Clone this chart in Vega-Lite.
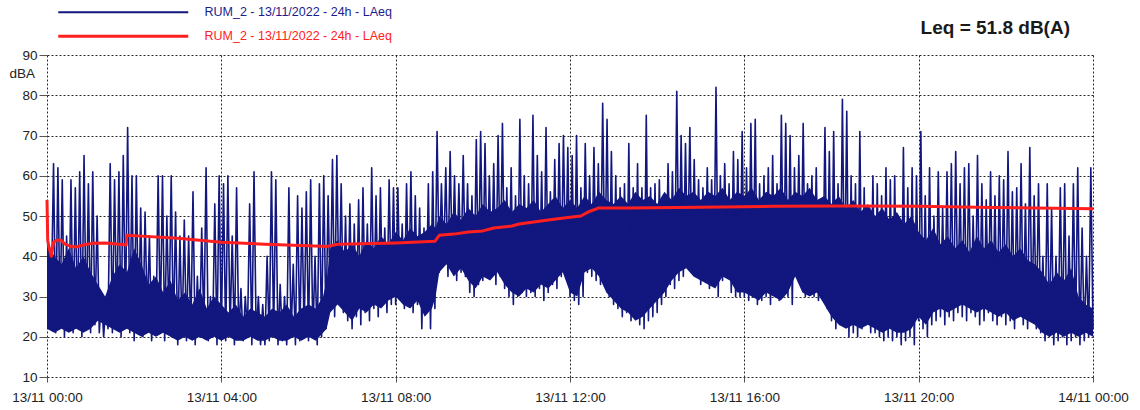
{
"$schema": "https://vega.github.io/schema/vega-lite/v6.json",
"width": 1046, "height": 322,
"autosize": {"type": "none"},
"padding": {"left": 47, "top": 55, "right": 47, "bottom": 33},
"background": "white",
"title": {"text": "Leq = 51.8 dB(A)", "anchor": "end", "frame": "group", "fontSize": 19, "fontWeight": "bold", "font": "Liberation Sans", "color": "#1a1a1a", "baseline": "alphabetic", "offset": -47, "dx": -23},
"datasets": {
"laeq": [
{"m":0,"v":54},{"m":3,"v":22},{"m":6,"v":30},{"m":9,"v":63},{"m":12,"v":21},{"m":15,"v":62},{"m":18,"v":24},{"m":21,"v":59},{"m":24,"v":20},{"m":27,"v":45},{"m":30,"v":22},{"m":33,"v":59},{"m":36,"v":21},{"m":39,"v":57},{"m":42,"v":23},{"m":45,"v":61},{"m":48,"v":20},{"m":51,"v":65},{"m":54,"v":22},{"m":57,"v":58},
{"m":60,"v":21},{"m":63,"v":61},{"m":66,"v":23},{"m":69,"v":50},{"m":72,"v":21},{"m":75,"v":30},{"m":78,"v":20},{"m":81,"v":28},{"m":84,"v":22},{"m":87,"v":63},{"m":90,"v":21},{"m":93,"v":59},{"m":96,"v":23},{"m":99,"v":61},{"m":102,"v":20},{"m":105,"v":65},{"m":108,"v":24},{"m":111,"v":72},{"m":114,"v":21},{"m":117,"v":60},
{"m":120,"v":19},{"m":123,"v":60},{"m":126,"v":22},{"m":129,"v":52},{"m":132,"v":20},{"m":135,"v":51},{"m":138,"v":25},{"m":141,"v":45},{"m":144,"v":19},{"m":147,"v":35},{"m":150,"v":21},{"m":153,"v":60},{"m":156,"v":22},{"m":159,"v":60},{"m":162,"v":19},{"m":165,"v":50},{"m":168,"v":23},{"m":171,"v":60},{"m":174,"v":20},{"m":177,"v":51},
{"m":180,"v":18},{"m":183,"v":45},{"m":186,"v":20},{"m":189,"v":49},{"m":192,"v":19},{"m":195,"v":45},{"m":198,"v":21},{"m":201,"v":56},{"m":204,"v":18},{"m":207,"v":35},{"m":210,"v":20},{"m":213,"v":47},{"m":216,"v":22},{"m":219,"v":62},{"m":222,"v":19},{"m":225,"v":30},{"m":228,"v":20},{"m":231,"v":53},{"m":234,"v":18},{"m":237,"v":60},
{"m":240,"v":20},{"m":243,"v":58},{"m":246,"v":19},{"m":249,"v":60},{"m":252,"v":21},{"m":255,"v":45},{"m":258,"v":18},{"m":261,"v":57},{"m":264,"v":20},{"m":267,"v":32},{"m":270,"v":19},{"m":273,"v":30},{"m":276,"v":21},{"m":279,"v":53},{"m":282,"v":18},{"m":285,"v":61},{"m":288,"v":20},{"m":291,"v":30},{"m":294,"v":18},{"m":297,"v":28},
{"m":300,"v":18},{"m":303,"v":40},{"m":306,"v":19},{"m":309,"v":61},{"m":312,"v":20},{"m":315,"v":59},{"m":318,"v":18},{"m":321,"v":33},{"m":324,"v":19},{"m":327,"v":30},{"m":330,"v":18},{"m":333,"v":57},{"m":336,"v":20},{"m":339,"v":38},{"m":342,"v":18},{"m":345,"v":55},{"m":348,"v":19},{"m":351,"v":52},{"m":354,"v":20},{"m":357,"v":56},
{"m":360,"v":19},{"m":363,"v":59},{"m":366,"v":20},{"m":369,"v":40},{"m":372,"v":18},{"m":375,"v":58},{"m":378,"v":20},{"m":381,"v":60},{"m":384,"v":22},{"m":387,"v":55},{"m":390,"v":27},{"m":393,"v":64},{"m":396,"v":25},{"m":399,"v":65},{"m":402,"v":28},{"m":405,"v":58},{"m":408,"v":26},{"m":411,"v":50},{"m":414,"v":24},{"m":417,"v":53},
{"m":420,"v":22},{"m":423,"v":48},{"m":426,"v":25},{"m":429,"v":54},{"m":432,"v":23},{"m":435,"v":57},{"m":438,"v":26},{"m":441,"v":48},{"m":444,"v":24},{"m":447,"v":62},{"m":450,"v":27},{"m":453,"v":55},{"m":456,"v":25},{"m":459,"v":57},{"m":462,"v":28},{"m":465,"v":47},{"m":468,"v":26},{"m":471,"v":59},{"m":474,"v":28},{"m":477,"v":57},
{"m":480,"v":28},{"m":483,"v":57},{"m":486,"v":30},{"m":489,"v":48},{"m":492,"v":27},{"m":495,"v":58},{"m":498,"v":29},{"m":501,"v":61},{"m":504,"v":26},{"m":507,"v":55},{"m":510,"v":28},{"m":513,"v":52},{"m":516,"v":22},{"m":519,"v":47},{"m":522,"v":26},{"m":525,"v":58},{"m":528,"v":22},{"m":531,"v":61},{"m":534,"v":27},{"m":537,"v":71},
{"m":540,"v":36},{"m":543,"v":58},{"m":546,"v":38},{"m":549,"v":62},{"m":552,"v":35},{"m":555,"v":66},{"m":558,"v":37},{"m":561,"v":60},{"m":564,"v":34},{"m":567,"v":58},{"m":570,"v":36},{"m":573,"v":65},{"m":576,"v":35},{"m":579,"v":58},{"m":582,"v":31},{"m":585,"v":55},{"m":588,"v":30},{"m":591,"v":69},{"m":594,"v":33},{"m":597,"v":71},
{"m":600,"v":34},{"m":603,"v":68},{"m":606,"v":36},{"m":609,"v":60},{"m":612,"v":35},{"m":615,"v":63},{"m":618,"v":33},{"m":621,"v":70},{"m":624,"v":35},{"m":627,"v":73},{"m":630,"v":32},{"m":633,"v":57},{"m":636,"v":30},{"m":639,"v":62},{"m":642,"v":28},{"m":645,"v":55},{"m":648,"v":30},{"m":651,"v":74},{"m":654,"v":31},{"m":657,"v":60},
{"m":660,"v":30},{"m":663,"v":58},{"m":666,"v":31},{"m":669,"v":75},{"m":672,"v":30},{"m":675,"v":65},{"m":678,"v":32},{"m":681,"v":61},{"m":684,"v":29},{"m":687,"v":72},{"m":690,"v":31},{"m":693,"v":56},{"m":696,"v":33},{"m":699,"v":64},{"m":702,"v":32},{"m":705,"v":68},{"m":708,"v":35},{"m":711,"v":70},{"m":714,"v":36},{"m":717,"v":67},
{"m":720,"v":30},{"m":723,"v":65},{"m":726,"v":29},{"m":729,"v":70},{"m":732,"v":28},{"m":735,"v":57},{"m":738,"v":30},{"m":741,"v":68},{"m":744,"v":36},{"m":747,"v":60},{"m":750,"v":35},{"m":753,"v":67},{"m":756,"v":34},{"m":759,"v":63},{"m":762,"v":33},{"m":765,"v":78},{"m":768,"v":34},{"m":771,"v":74},{"m":774,"v":30},{"m":777,"v":66},
{"m":780,"v":28},{"m":783,"v":60},{"m":786,"v":27},{"m":789,"v":57},{"m":792,"v":25},{"m":795,"v":58},{"m":798,"v":26},{"m":801,"v":68},{"m":804,"v":24},{"m":807,"v":57},{"m":810,"v":25},{"m":813,"v":63},{"m":816,"v":23},{"m":819,"v":57},{"m":822,"v":22},{"m":825,"v":75},{"m":828,"v":24},{"m":831,"v":57},{"m":834,"v":25},{"m":837,"v":58},
{"m":840,"v":26},{"m":843,"v":59},{"m":846,"v":28},{"m":849,"v":55},{"m":852,"v":30},{"m":855,"v":63},{"m":858,"v":33},{"m":861,"v":61},{"m":864,"v":32},{"m":867,"v":81},{"m":870,"v":34},{"m":873,"v":70},{"m":876,"v":35},{"m":879,"v":68},{"m":882,"v":37},{"m":885,"v":72},{"m":888,"v":36},{"m":891,"v":64},{"m":894,"v":35},{"m":897,"v":59},
{"m":900,"v":33},{"m":903,"v":57},{"m":906,"v":34},{"m":909,"v":62},{"m":912,"v":32},{"m":915,"v":59},{"m":918,"v":33},{"m":921,"v":82},{"m":924,"v":30},{"m":927,"v":60},{"m":930,"v":34},{"m":933,"v":63},{"m":936,"v":35},{"m":939,"v":58},{"m":942,"v":31},{"m":945,"v":66},{"m":948,"v":30},{"m":951,"v":64},{"m":954,"v":30},{"m":957,"v":71},
{"m":960,"v":30},{"m":963,"v":62},{"m":966,"v":29},{"m":969,"v":73},{"m":972,"v":30},{"m":975,"v":74},{"m":978,"v":28},{"m":981,"v":58},{"m":984,"v":29},{"m":987,"v":60},{"m":990,"v":30},{"m":993,"v":62},{"m":996,"v":28},{"m":999,"v":65},{"m":1002,"v":30},{"m":1005,"v":58},{"m":1008,"v":29},{"m":1011,"v":75},{"m":1014,"v":30},{"m":1017,"v":73},
{"m":1020,"v":30},{"m":1023,"v":70},{"m":1026,"v":28},{"m":1029,"v":62},{"m":1032,"v":35},{"m":1035,"v":65},{"m":1038,"v":33},{"m":1041,"v":73},{"m":1044,"v":30},{"m":1047,"v":58},{"m":1050,"v":31},{"m":1053,"v":60},{"m":1056,"v":30},{"m":1059,"v":62},{"m":1062,"v":29},{"m":1065,"v":40},{"m":1068,"v":30},{"m":1071,"v":72},{"m":1074,"v":27},{"m":1077,"v":66},
{"m":1080,"v":24},{"m":1083,"v":71},{"m":1086,"v":22},{"m":1089,"v":58},{"m":1092,"v":23},{"m":1095,"v":79},{"m":1098,"v":30},{"m":1101,"v":76},{"m":1104,"v":20},{"m":1107,"v":60},{"m":1110,"v":21},{"m":1113,"v":58},{"m":1116,"v":20},{"m":1119,"v":71},{"m":1122,"v":22},{"m":1125,"v":57},{"m":1128,"v":23},{"m":1131,"v":45},{"m":1134,"v":21},{"m":1137,"v":60},
{"m":1140,"v":21},{"m":1143,"v":58},{"m":1146,"v":20},{"m":1149,"v":55},{"m":1152,"v":19},{"m":1155,"v":62},{"m":1158,"v":20},{"m":1161,"v":59},{"m":1164,"v":19},{"m":1167,"v":60},{"m":1170,"v":20},{"m":1173,"v":48},{"m":1176,"v":18},{"m":1179,"v":67},{"m":1182,"v":19},{"m":1185,"v":57},{"m":1188,"v":20},{"m":1191,"v":62},{"m":1194,"v":18},{"m":1197,"v":60},
{"m":1200,"v":24},{"m":1203,"v":71},{"m":1206,"v":22},{"m":1209,"v":55},{"m":1212,"v":20},{"m":1215,"v":62},{"m":1218,"v":23},{"m":1221,"v":50},{"m":1224,"v":24},{"m":1227,"v":61},{"m":1230,"v":25},{"m":1233,"v":52},{"m":1236,"v":23},{"m":1239,"v":61},{"m":1242,"v":25},{"m":1245,"v":63},{"m":1248,"v":24},{"m":1251,"v":66},{"m":1254,"v":26},{"m":1257,"v":58},
{"m":1260,"v":25},{"m":1263,"v":62},{"m":1266,"v":24},{"m":1269,"v":63},{"m":1272,"v":26},{"m":1275,"v":50},{"m":1278,"v":25},{"m":1281,"v":65},{"m":1284,"v":23},{"m":1287,"v":58},{"m":1290,"v":24},{"m":1293,"v":54},{"m":1296,"v":26},{"m":1299,"v":61},{"m":1302,"v":24},{"m":1305,"v":55},{"m":1308,"v":23},{"m":1311,"v":60},{"m":1314,"v":25},{"m":1317,"v":59},
{"m":1320,"v":23},{"m":1323,"v":66},{"m":1326,"v":24},{"m":1329,"v":56},{"m":1332,"v":22},{"m":1335,"v":57},{"m":1338,"v":25},{"m":1341,"v":63},{"m":1344,"v":23},{"m":1347,"v":53},{"m":1350,"v":22},{"m":1353,"v":67},{"m":1356,"v":24},{"m":1359,"v":55},{"m":1362,"v":22},{"m":1365,"v":58},{"m":1368,"v":21},{"m":1371,"v":40},{"m":1374,"v":19},{"m":1377,"v":58},
{"m":1380,"v":20},{"m":1383,"v":52},{"m":1386,"v":18},{"m":1389,"v":40},{"m":1392,"v":19},{"m":1395,"v":57},{"m":1398,"v":20},{"m":1401,"v":58},{"m":1404,"v":18},{"m":1407,"v":45},{"m":1410,"v":19},{"m":1413,"v":58},{"m":1416,"v":20},{"m":1419,"v":62},{"m":1422,"v":18},{"m":1425,"v":47},{"m":1428,"v":19},{"m":1431,"v":40},{"m":1434,"v":20},{"m":1437,"v":62},
{"m":1440,"v":22}
],
"band": [
{"m":0,"v":22,"v2":44},{"m":10,"v":21,"v2":40},{"m":20,"v":22,"v2":38},{"m":30,"v":21,"v2":42},{"m":40,"v":22,"v2":37},{"m":50,"v":21,"v2":40},{"m":60,"v":22,"v2":36},{"m":70,"v":24,"v2":33},{"m":80,"v":23,"v2":30},{"m":90,"v":22,"v2":35},{"m":100,"v":21,"v2":38},{"m":110,"v":22,"v2":36},
{"m":120,"v":21,"v2":42},{"m":130,"v":20,"v2":38},{"m":140,"v":21,"v2":33},{"m":150,"v":20,"v2":35},{"m":160,"v":21,"v2":31},{"m":170,"v":20,"v2":34},{"m":180,"v":19,"v2":29},{"m":190,"v":20,"v2":31},{"m":200,"v":19,"v2":28},{"m":210,"v":20,"v2":32},{"m":220,"v":19,"v2":27},{"m":230,"v":20,"v2":30},
{"m":240,"v":19,"v2":28},{"m":250,"v":20,"v2":26},{"m":260,"v":19,"v2":28},{"m":270,"v":19,"v2":25},{"m":280,"v":20,"v2":27},{"m":290,"v":19,"v2":26},{"m":300,"v":19,"v2":25},{"m":310,"v":20,"v2":27},{"m":320,"v":19,"v2":26},{"m":330,"v":19,"v2":28},{"m":340,"v":20,"v2":25},{"m":350,"v":19,"v2":27},
{"m":360,"v":20,"v2":28},{"m":370,"v":19,"v2":27},{"m":380,"v":21,"v2":30},{"m":385,"v":22,"v2":34},{"m":390,"v":26,"v2":42},{"m":400,"v":28,"v2":44},{"m":410,"v":26,"v2":41},{"m":420,"v":24,"v2":43},{"m":430,"v":27,"v2":40},{"m":440,"v":26,"v2":44},{"m":450,"v":28,"v2":42},{"m":460,"v":27,"v2":45},{"m":470,"v":29,"v2":43},
{"m":480,"v":30,"v2":46},{"m":490,"v":28,"v2":44},{"m":500,"v":27,"v2":47},{"m":510,"v":29,"v2":45},{"m":520,"v":25,"v2":46},{"m":530,"v":27,"v2":48},{"m":535,"v":30,"v2":47},{"m":540,"v":36,"v2":50},{"m":550,"v":38,"v2":48},{"m":560,"v":35,"v2":51},{"m":570,"v":37,"v2":49},{"m":580,"v":34,"v2":52},{"m":590,"v":32,"v2":50},
{"m":600,"v":35,"v2":53},{"m":610,"v":34,"v2":51},{"m":620,"v":36,"v2":52},{"m":630,"v":33,"v2":54},{"m":640,"v":31,"v2":51},{"m":650,"v":30,"v2":53},{"m":660,"v":32,"v2":52},{"m":670,"v":31,"v2":54},{"m":680,"v":33,"v2":51},{"m":690,"v":32,"v2":53},{"m":700,"v":34,"v2":55},{"m":710,"v":36,"v2":52},
{"m":720,"v":31,"v2":54},{"m":730,"v":30,"v2":52},{"m":740,"v":36,"v2":55},{"m":750,"v":37,"v2":53},{"m":760,"v":35,"v2":56},{"m":770,"v":31,"v2":54},{"m":780,"v":29,"v2":53},{"m":790,"v":27,"v2":55},{"m":800,"v":26,"v2":53},{"m":810,"v":24,"v2":56},{"m":820,"v":25,"v2":54},{"m":830,"v":27,"v2":55},
{"m":840,"v":29,"v2":53},{"m":850,"v":31,"v2":56},{"m":860,"v":34,"v2":54},{"m":870,"v":36,"v2":57},{"m":880,"v":37,"v2":55},{"m":890,"v":35,"v2":56},{"m":900,"v":34,"v2":54},{"m":910,"v":33,"v2":56},{"m":920,"v":32,"v2":55},{"m":930,"v":35,"v2":57},{"m":940,"v":34,"v2":54},{"m":950,"v":31,"v2":56},
{"m":960,"v":31,"v2":55},{"m":970,"v":30,"v2":57},{"m":980,"v":29,"v2":54},{"m":990,"v":31,"v2":56},{"m":1000,"v":30,"v2":55},{"m":1010,"v":29,"v2":57},{"m":1020,"v":31,"v2":54},{"m":1030,"v":35,"v2":56},{"m":1040,"v":31,"v2":55},{"m":1050,"v":30,"v2":57},{"m":1060,"v":31,"v2":54},{"m":1070,"v":28,"v2":55},
{"m":1080,"v":25,"v2":53},{"m":1090,"v":23,"v2":55},{"m":1100,"v":22,"v2":52},{"m":1110,"v":23,"v2":54},{"m":1120,"v":22,"v2":51},{"m":1130,"v":23,"v2":53},{"m":1140,"v":22,"v2":50},{"m":1150,"v":21,"v2":52},{"m":1160,"v":22,"v2":49},{"m":1170,"v":21,"v2":51},{"m":1180,"v":21,"v2":48},{"m":1190,"v":22,"v2":50},
{"m":1200,"v":25,"v2":46},{"m":1210,"v":23,"v2":44},{"m":1220,"v":26,"v2":47},{"m":1230,"v":27,"v2":43},{"m":1240,"v":26,"v2":45},{"m":1250,"v":27,"v2":42},{"m":1260,"v":28,"v2":44},{"m":1270,"v":27,"v2":41},{"m":1280,"v":26,"v2":45},{"m":1290,"v":27,"v2":42},{"m":1300,"v":26,"v2":44},{"m":1310,"v":25,"v2":41},
{"m":1320,"v":26,"v2":43},{"m":1330,"v":24,"v2":40},{"m":1340,"v":25,"v2":42},{"m":1350,"v":24,"v2":39},{"m":1360,"v":23,"v2":38},{"m":1370,"v":21,"v2":36},{"m":1380,"v":20,"v2":33},{"m":1390,"v":21,"v2":36},{"m":1400,"v":20,"v2":34},{"m":1410,"v":21,"v2":37},{"m":1420,"v":20,"v2":30},{"m":1430,"v":21,"v2":28},{"m":1440,"v":20,"v2":27}
],
"leq": [
{"m":0,"v":54},{"m":1,"v":44},{"m":3,"v":42},{"m":6,"v":40},{"m":9,"v":43.5},{"m":13,"v":44},{"m":19,"v":44},{"m":25,"v":43},{"m":32,"v":42.5},{"m":40,"v":42.3},{"m":50,"v":42.8},{"m":62,"v":43.2},{"m":80,"v":43.3},{"m":100,"v":43},{"m":109,"v":42.8},{"m":110,"v":45.2},{"m":130,"v":45},{"m":180,"v":44.5},{"m":240,"v":43.5},{"m":300,"v":43},{"m":360,"v":42.6},{"m":385,"v":42.4},{"m":400,"v":43},{"m":480,"v":43.3},{"m":534,"v":43.7},{"m":540,"v":45.2},{"m":560,"v":45.5},{"m":580,"v":46},{"m":600,"v":46.3},{"m":615,"v":47},{"m":640,"v":47.5},{"m":650,"v":48},{"m":670,"v":48.5},{"m":690,"v":49},{"m":720,"v":49.7},{"m":735,"v":50},{"m":745,"v":51},{"m":760,"v":52},{"m":800,"v":52},{"m":900,"v":52.2},{"m":1000,"v":52.4},{"m":1100,"v":52.5},{"m":1200,"v":52.4},{"m":1300,"v":52.1},{"m":1440,"v":51.8}
]
},
"encoding": {
"x": {"field": "m", "type": "quantitative", "scale": {"domain": [0, 1440], "nice": false, "zero": false},
 "axis": {"values": [0, 240, 480, 720, 960, 1200, 1440], "title": null, "labelExpr": "(datum.value >= 1440 ? '14/11 ' : '13/11 ') + ((datum.value % 1440) < 600 ? '0' : '') + floor((datum.value % 1440) / 60) + ':00'", "labelPadding": 8, "labelOverlap": false, "labelFlush": false}},
"y": {"field": "v", "type": "quantitative", "scale": {"domain": [10, 90], "nice": false, "zero": false},
 "axis": {"values": [10, 20, 30, 40, 50, 60, 70, 80, 90], "title": "dBA", "titleAngle": 0, "titleX": -38, "titleY": 18, "titleAlign": "left", "titleBaseline": "middle", "titleFontWeight": "normal", "titleFontSize": 13.5, "titleColor": "#222", "titleFont": "Liberation Sans", "labelPadding": 2, "tickSize": 8}}
},
"layer": [
{"data": {"name": "band"}, "mark": {"type": "area", "color": "#12177f", "opacity": 1},
 "encoding": {"y2": {"field": "v2"}}},
{"data": {"name": "laeq"}, "mark": {"type": "line", "strokeWidth": 1.6, "strokeJoin": "round"},
 "encoding": {"color": {"datum": "a", "type": "nominal", "scale": {"domain": ["a", "b"], "range": ["#12177f", "#ff1f1f"]},
  "legend": {"title": null, "orient": "none", "legendX": 5, "legendY": -49, "direction": "vertical", "symbolType": "M0,0H26", "symbolSize": 100, "symbolStrokeWidth": 2.5, "labelOffset": 140, "rowPadding": 11, "labelFontSize": 12.5, "labelFont": "Liberation Sans", "labelLimit": 500,
   "labelExpr": "'RUM_2 - 13/11/2022 - 24h - LAeq'",
   "encode": {"labels": {"update": {"fill": {"signal": "datum.value === 'a' ? '#1c1c8c' : '#ff2020'"}}}, "symbols": {"update": {"strokeWidth": {"signal": "datum.value === 'a' ? 2 : 3"}}}}}}}},
{"data": {"name": "leq"}, "mark": {"type": "line", "strokeWidth": 3, "strokeJoin": "round"},
 "encoding": {"color": {"datum": "b", "type": "nominal"}}}
],
"config": {
 "font": "Liberation Sans",
 "view": {"stroke": null},
 "axis": {"grid": true, "gridColor": "#111", "gridDash": [2, 2], "gridWidth": 1, "gridOpacity": 0.9, "domain": false, "tickColor": "#555", "tickSize": 5, "labelFontSize": 13.5, "labelColor": "#222", "labelFont": "Liberation Sans"}
}
}
